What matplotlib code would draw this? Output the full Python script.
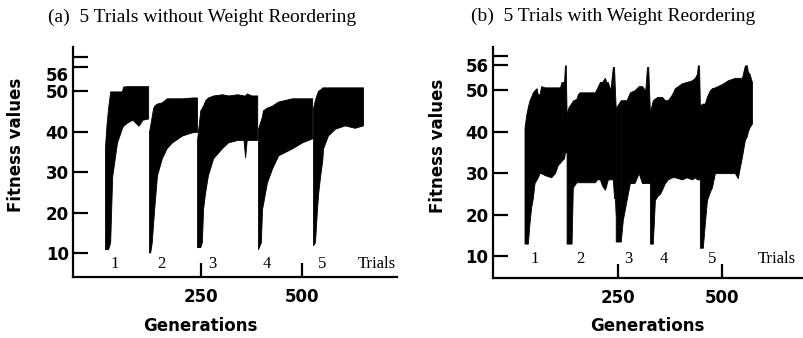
import matplotlib.pyplot as plt
from matplotlib.transforms import ScaledTranslation

# ---- data (envelopes of the dense fitness traces) ----
# panel (a): without weight reordering
a_gen = [
    [12, 16, 20, 25, 30, 42, 54, 57, 67, 80, 95, 105, 119],
    [121, 124, 128, 131, 134, 141, 153, 165, 178, 203, 228, 240],
    [240, 248, 252, 255, 260, 267, 280, 302, 317, 340, 355, 359, 363, 375, 389],
    [391, 398, 401, 403, 413, 426, 433, 441, 475, 500, 525],
    [527, 532, 537, 540, 545, 550, 552, 564, 582, 606, 630, 651],
]
a_up = [
    [36, 42, 46, 50, 50, 50, 50, 51.2, 51.3, 51.3, 51.3, 51.3, 51.3],
    [40, 41.6, 44, 45.8, 46.5, 47, 47.3, 48.3, 48.3, 48.3, 48.5, 48.5],
    [38, 45.3, 46, 46.5, 47.8, 48.5, 49, 49.3, 49, 49.3, 49, 49, 49.5, 49, 49],
    [40.8, 43, 44, 45.3, 46, 46.5, 47, 47.5, 48.3, 48.3, 48.3],
    [45.8, 48, 49.5, 50.2, 50.5, 51, 51, 51, 51, 51, 51, 51],
]
a_lo = [
    [11, 11, 11, 12.7, 29, 37.4, 40.9, 41.5, 42.3, 43, 41.5, 43, 43.3],
    [10.2, 10.2, 12.7, 17, 21, 29.3, 33.5, 36, 37.4, 39.1, 39.9, 40],
    [11.5, 11.5, 12.7, 21, 25, 29.3, 33.5, 36, 37.4, 38, 38, 33.7, 38, 38, 38],
    [11, 12.7, 21, 22, 27.5, 31, 32.5, 34.2, 35.9, 37.4, 38.4],
    [12, 12.7, 21, 25, 29.3, 33, 35.9, 39.1, 40.8, 41.6, 41, 41.6],
]

# panel (b): with weight reordering
b_gen = [
    [26, 30, 34, 38, 42, 46, 50, 55, 58, 62, 66, 75, 90, 99, 106, 111, 115, 121, 123, 125, 127],
    [127, 132, 139, 142, 151, 154, 158, 175, 195, 200, 207, 212, 219, 222, 226, 232, 238, 241, 243, 245],
    [245, 250, 257, 262, 271, 279, 290, 300, 308, 316, 320, 323, 327],
    [327, 334, 339, 345, 351, 356, 363, 370, 380, 387, 404, 415, 428, 435, 440, 442, 445, 447],
    [447, 454, 459, 464, 471, 476, 483, 500, 514, 531, 538, 548, 555, 560, 562, 566, 572],
]
b_up = [
    [41, 44, 46, 47.6, 48.5, 49.5, 50, 50.5, 49, 49, 51, 50.7, 50.7, 50.7, 50.7, 50.7, 52, 52, 56, 56, 44.5],
    [44.5, 46, 47, 47.5, 48, 49, 49.5, 49.5, 49.5, 50.5, 52, 52, 53, 52, 52, 50, 55.6, 55.6, 50, 45.7],
    [45.7, 46.5, 47.6, 47.6, 47.6, 49.5, 50, 51, 51, 50, 55.6, 55.6, 44.7],
    [44.7, 47.6, 48, 48.4, 48.4, 48.4, 47.6, 47.6, 49, 50.5, 51.7, 52, 52.4, 53, 54, 56, 56, 46.4],
    [46.4, 46.8, 46.8, 48.5, 50, 50.5, 50.7, 51.5, 52.4, 53, 53, 53, 56, 56, 54.5, 54, 52],
]
b_lo = [
    [13, 13, 13, 18, 21.8, 24, 27.6, 28.5, 29, 30, 30, 29.5, 29, 30, 32, 32.5, 33, 33.6, 35, 35, 35],
    [13, 13, 13, 26.6, 27.8, 27.8, 27.8, 27.8, 27.8, 28.5, 28.5, 27, 26, 27, 28.5, 28.5, 28.5, 24, 24, 20],
    [13.5, 13.5, 13.5, 18.7, 23.5, 27.6, 27.6, 30, 27.6, 27.6, 27.6, 27.6, 27.6],
    [13, 13, 23.5, 24.5, 25, 26, 27.6, 28.5, 29, 29, 28.5, 29, 28.5, 29, 28.5, 28.5, 28.5, 28.5],
    [12, 12, 18, 23.5, 25.5, 26.6, 30, 30, 30, 30, 28.8, 34, 38, 39, 40, 41, 42],
]

trial_names = ['1', '2', '3', '4', '5', 'Trials']
a_label_gen = [37, 151, 277, 413, 550, 686]
b_label_gen = [50, 159, 276, 361, 476, 632]

y_ticks_a = [10, 20, 30, 40, 50, 56, 58.6]
y_ticks_b = [10, 20, 30, 40, 50, 56, 58.2]
y_tick_labels = ['10', '20', '30', '40', '50', '56', '']
x_ticks = [250, 500]
x_tick_labels = ['250', '500']

titles = ['(a)  5 Trials without Weight Reordering', '(b)  5 Trials with Weight Reordering']

serif = 'Liberation Serif'
sans = 'DejaVu Sans'

fig = plt.figure(figsize=(8.04, 3.38), dpi=100)
ax_a = fig.add_axes([0.0908, 0.180, 0.403, 0.680])
ax_b = fig.add_axes([0.613, 0.1775, 0.386, 0.683])


def style(ax, gens, ups, los, yticks, xlim, ylim, lab_gen, lab_y, xlab_pos):
    for g, u, l in zip(gens, ups, los):
        ax.fill_between(g, l, u, color='black', lw=0.6, edgecolor='black')
    ax.set_xlim(*xlim)
    ax.set_ylim(*ylim)
    for s in ['top', 'right']:
        ax.spines[s].set_visible(False)
    for s in ['left', 'bottom']:
        ax.spines[s].set_linewidth(1.6)
    ax.set_yticks(yticks)
    ax.set_yticklabels(y_tick_labels)
    ax.set_xticks(x_ticks)
    ax.set_xticklabels(x_tick_labels)
    ax.tick_params(axis='y', direction='in', length=11, width=1.6, pad=3)
    ax.tick_params(axis='x', direction='in', length=10, width=1.6, pad=8)
    for t in ax.get_xticklabels() + ax.get_yticklabels():
        t.set_fontfamily(sans)
        t.set_fontweight('bold')
        t.set_fontsize(12)
    ax.set_ylabel('Fitness values', fontfamily=sans, fontweight='bold', fontsize=12)
    ax.set_xlabel('Generations', fontfamily=sans, fontweight='bold', fontsize=12)
    ax.yaxis.set_label_coords(-0.148, 0.574)
    ax.xaxis.set_label_coords(*xlab_pos)
    for name, g in zip(trial_names, lab_gen):
        ax.text(g, lab_y, name, fontfamily=serif, fontsize=12, ha='center', va='center')


style(ax_a, a_gen, a_up, a_lo, y_ticks_a, (-67, 735), (4.07, 60.9), a_label_gen, 7.3, (0.392, -0.174))
style(ax_b, b_gen, b_up, b_lo, y_ticks_b, (-50, 695), (4.7, 60.4), b_label_gen, 9.2, (0.497, -0.169))

# the "56" label in panel (a) sits a little below its tick
lab56 = ax_a.get_yticklabels()[5]
lab56.set_transform(lab56.get_transform() + ScaledTranslation(0, -7 / 100, fig.dpi_scale_trans))

fig.text(202 / 804, 1 - 17 / 338, titles[0], fontfamily=serif, fontsize=14, ha='center', va='center')
fig.text(613 / 804, 1 - 16 / 338, titles[1], fontfamily=serif, fontsize=14, ha='center', va='center')

fig.savefig('out.png', dpi=100)
